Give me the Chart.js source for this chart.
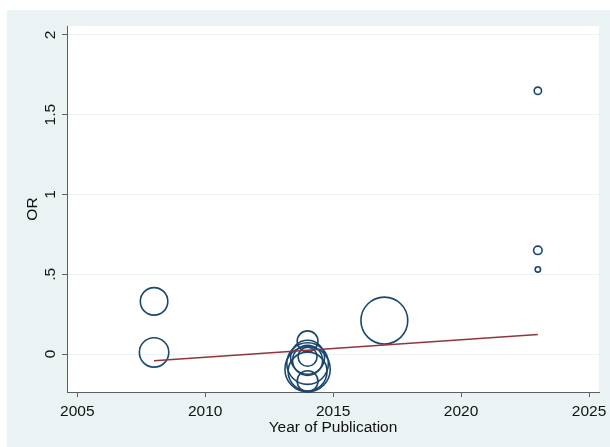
<!DOCTYPE html>
<html>
<head>
<meta charset="utf-8">
<script src="https://cdn.jsdelivr.net/npm/chart.js@4/dist/chart.umd.min.js"></script>
<style>
  html, body { margin: 0; padding: 0; background: #ffffff; }
  #wrap { width: 610px; height: 447px; }
  canvas { display: block; }
</style>
</head>
<body>
<div id="wrap"><canvas id="c" width="610" height="447"></canvas></div>
<script>
// Study-level estimates: publication year, odds ratio, and study weight
const studyYears   = [2008, 2008, 2014, 2014, 2014, 2014, 2014, 2014, 2014, 2014, 2017, 2023, 2023, 2023];
const studyOR      = [0.33, 0.01, 0.08, -0.02, -0.017, -0.06, -0.095, -0.11, -0.17, -0.04, 0.21, 1.65, 0.65, 0.53];
const studyWeights = [21, 24, 12, 32, 10, 48, 57, 42, 12, 25, 61, 1.5, 2.0, 0.8];

// Fitted meta-regression line
const fitYears = [2008, 2023];
const fitOR    = [-0.042, 0.123];

// Axis ticks
const xTicks = [2005, 2010, 2015, 2020, 2025];
const yTicks = [0, 0.5, 1, 1.5, 2];
const yTickLabels = ['0', '.5', '1', '1.5', '2'];

const FONT = "'Liberation Sans', Arial, Helvetica, sans-serif";
const FONT_SIZE = 15.5;
const BG = '#EAF2F3';
const AXIS = '#5f5f5f';
const TEXT = '#111111';

// bubble radius grows with the square root of the weight (area ~ weight)
const bubbleRadius = w => 3 * Math.sqrt(w);

const bubbles = studyYears.map((yr, i) => ({ x: yr, y: studyOR[i], r: bubbleRadius(studyWeights[i]) }));
const fitLine = fitYears.map((yr, i) => ({ x: yr, y: fitOR[i] }));

const backgroundPlugin = {
  id: 'graphRegion',
  beforeDraw(chart) {
    const { ctx, chartArea: a } = chart;
    ctx.save();
    ctx.fillStyle = '#ffffff';
    ctx.fillRect(0, 0, chart.width, chart.height);
    ctx.fillStyle = BG;
    ctx.fillRect(7, 10, chart.width - 7, chart.height - 10);
    ctx.fillStyle = '#ffffff';
    ctx.fillRect(a.left, a.top, a.right - a.left, a.bottom - a.top);
    ctx.restore();
  }
};

// vertical tick labels and axis title on the y axis
const yLabelsPlugin = {
  id: 'yLabels',
  afterDraw(chart) {
    const { ctx, scales: { y } } = chart;
    ctx.save();
    ctx.fillStyle = TEXT;
    ctx.font = FONT_SIZE + 'px ' + FONT;
    ctx.textAlign = 'center';
    ctx.textBaseline = 'alphabetic';
    y.ticks.forEach(t => {
      const py = y.getPixelForValue(t.value);
      ctx.save();
      ctx.translate(55, py);
      ctx.rotate(-Math.PI / 2);
      ctx.fillText(yTickLabels[yTicks.indexOf(t.value)] ?? String(t.value), 0, 0);
      ctx.restore();
    });
    const a = chart.chartArea;
    ctx.save();
    ctx.translate(37, (a.top + a.bottom) / 2);
    ctx.rotate(-Math.PI / 2);
    ctx.fillText('OR', 0, 0);
    ctx.restore();
    ctx.restore();
  }
};

new Chart(document.getElementById('c'), {
  type: 'bubble',
  data: {
    datasets: [
      {
        type: 'line',
        label: 'Fitted',
        data: fitLine,
        borderColor: '#90353b',
        borderWidth: 1.5,
        pointRadius: 0,
        fill: false,
        tension: 0,
        order: 0
      },
      {
        label: 'Studies',
        data: bubbles,
        borderColor: '#1a476f',
        backgroundColor: 'rgba(0,0,0,0)',
        borderWidth: 1.6,
        hoverRadius: 0,
        clip: false,
        order: 1
      }
    ]
  },
  options: {
    responsive: false,
    animation: false,
    devicePixelRatio: 1,
    layout: { autoPadding: false, padding: { left: 0, right: 11, top: 26, bottom: 0 } },
    plugins: {
      legend: { display: false },
      tooltip: { enabled: false }
    },
    scales: {
      x: {
        type: 'linear',
        position: 'bottom',
        min: 2004.597,
        max: 2025.39,
        afterBuildTicks: s => { s.ticks = xTicks.map(v => ({ value: v })); },
        afterFit: s => { s.height = 55; s.paddingLeft = 0; s.paddingRight = 0; },
        grid: { drawOnChartArea: false, drawTicks: true, tickLength: 5, tickColor: AXIS, tickWidth: 1 },
        border: { display: true, color: AXIS, width: 1 },
        ticks: {
          color: TEXT,
          font: { family: FONT, size: FONT_SIZE },
          padding: 5,
          maxRotation: 0,
          callback: v => String(v)
        },
        title: {
          display: true,
          text: 'Year of Publication',
          color: TEXT,
          font: { family: FONT, size: FONT_SIZE },
          padding: { top: 0, bottom: 10 }
        }
      },
      y: {
        type: 'linear',
        position: 'left',
        min: -0.238,
        max: 2.056,
        afterBuildTicks: s => { s.ticks = yTicks.map(v => ({ value: v })); },
        afterFit: s => { s.width = 67; s.paddingTop = 0; s.paddingBottom = 0; },
        grid: { drawOnChartArea: true, color: BG, lineWidth: 1, drawTicks: true, tickLength: 5, tickColor: AXIS, tickWidth: 1 },
        border: { display: true, color: AXIS, width: 1 },
        ticks: { display: false }
      }
    }
  },
  plugins: [backgroundPlugin, yLabelsPlugin]
});
</script>
</body>
</html>
